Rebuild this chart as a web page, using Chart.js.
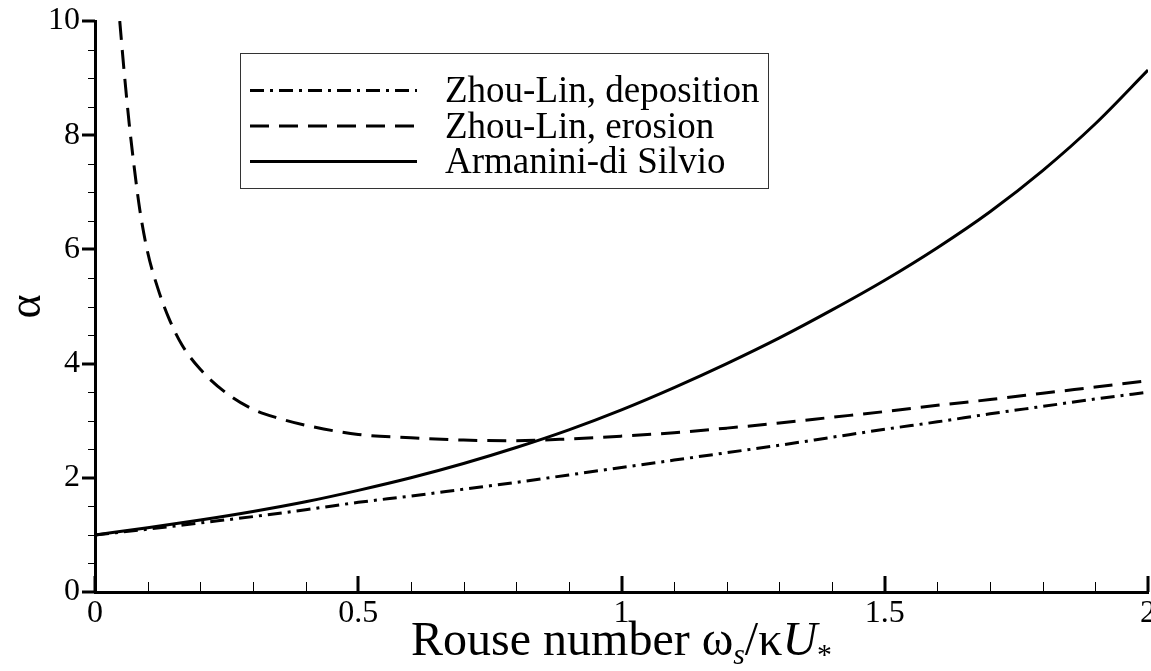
<!DOCTYPE html>
<html>
<head>
<meta charset="utf-8">
<script src="https://cdn.jsdelivr.net/npm/chart.js@4/dist/chart.umd.min.js"></script>
<style>
  html, body { margin: 0; padding: 0; background: #fff; }
  #wrap { position: relative; width: 1151px; height: 671px; }
  #xtitle {
    position: absolute; left: 95px; width: 1053px; top: 615px;
    text-align: center; font-family: 'Liberation Serif', serif;
    font-size: 48px; line-height: 48px; color: #000; white-space: nowrap;
  }
  #xtitle sub { font-size: 0.62em; vertical-align: -0.3em; line-height: 0; }
</style>
</head>
<body>
<div id="wrap">
  <canvas id="chart"></canvas>
  <div id="xtitle">Rouse number ω<sub><i>s</i></sub>/κ<i>U</i><sub>*</sub></div>
</div>
<script>
// Rouse number samples shared by the two smooth curves
const rouse = [0, 0.1, 0.2, 0.3, 0.4, 0.5, 0.6, 0.7, 0.8, 0.9, 1.0,
               1.1, 1.2, 1.3, 1.4, 1.5, 1.6, 1.7, 1.8, 1.9, 2.0];

const depositionAlpha = [1.00, 1.10, 1.21, 1.32, 1.44, 1.57, 1.68, 1.80, 1.92, 2.05, 2.18,
                         2.31, 2.44, 2.57, 2.71, 2.85, 2.98, 3.12, 3.25, 3.38, 3.50];

const armaniniAlpha = [1.00, 1.125, 1.26, 1.41, 1.58, 1.78, 2.00, 2.25, 2.53, 2.84, 3.19,
                       3.58, 4.00, 4.45, 4.94, 5.46, 6.03, 6.66, 7.38, 8.20, 9.14];

// erosion curve starts off the top of the plot, so it has its own x values
const erosionRouse = [0.047, 0.055, 0.065, 0.075, 0.085, 0.1, 0.12, 0.14, 0.165, 0.2, 0.25,
                      0.3, 0.35, 0.4, 0.5, 0.6, 0.7, 0.8, 0.9, 1.0, 1.1, 1.2, 1.3, 1.4,
                      1.5, 1.6, 1.7, 1.8, 1.9, 2.0];
const erosionAlpha = [10.0, 9.15, 8.2, 7.4, 6.7, 5.95, 5.3, 4.8, 4.33, 3.9, 3.48,
                      3.2, 3.04, 2.92, 2.76, 2.70, 2.66, 2.65, 2.68, 2.73, 2.79, 2.87, 2.96, 3.06,
                      3.16, 3.27, 3.37, 3.48, 3.59, 3.70];

const seriesNames = ['Zhou-Lin, deposition', 'Zhou-Lin, erosion', 'Armanini-di Silvio'];

const FONT = 'Liberation Serif';

function pairs(xs, ys) {
    return xs.map((x, i) => ({ x: x, y: ys[i] }));
}

const lineBase = {
    borderColor: '#000',
    borderWidth: 3,
    pointRadius: 0,
    fill: false,
    cubicInterpolationMode: 'monotone',
    borderCapStyle: 'butt'
};

// minor/major ticks: y ticks outside, x ticks pointing into the plot
const tickMarks = {
    id: 'tickMarks',
    afterDraw(chart) {
        const ctx = chart.ctx;
        const xs = chart.scales.x, ys = chart.scales.y;
        const left = chart.chartArea.left, bottom = chart.chartArea.bottom;
        ctx.save();
        ctx.strokeStyle = '#000';
        for (let i = 0; i <= 20; i++) {
            const py = Math.round(ys.getPixelForValue(i * 0.5));
            const major = i % 4 === 0;
            ctx.lineWidth = major ? 3 : 1;
            ctx.beginPath();
            ctx.moveTo(left - (major ? 13 : 7), py + (major ? 0 : 0.5));
            ctx.lineTo(left, py + (major ? 0 : 0.5));
            ctx.stroke();
        }
        for (let i = 0; i <= 20; i++) {
            const px = Math.round(xs.getPixelForValue(i * 0.1));
            const major = i % 5 === 0;
            ctx.lineWidth = major ? 3 : 1;
            ctx.beginPath();
            ctx.moveTo(px + (major ? 0 : 0.5), bottom);
            ctx.lineTo(px + (major ? 0 : 0.5), bottom - (major ? 16 : 10));
            ctx.stroke();
        }
        ctx.restore();
    }
};

// boxed legend inside the plot
const boxLegend = {
    id: 'boxLegend',
    afterDraw(chart) {
        const ctx = chart.ctx;
        ctx.save();
        ctx.fillStyle = '#fff';
        ctx.fillRect(240, 53, 528, 135);
        ctx.strokeStyle = '#333';
        ctx.lineWidth = 1;
        ctx.strokeRect(240.5, 53.5, 528, 135);
        const baselines = [102, 137.5, 173];
        chart.data.datasets.forEach((ds, i) => {
            const ly = baselines[i] - 11.5;
            ctx.strokeStyle = '#000';
            ctx.lineWidth = 3;
            ctx.setLineDash(ds.borderDash || []);
            ctx.beginPath();
            ctx.moveTo(250, ly);
            ctx.lineTo(417, ly);
            ctx.stroke();
            ctx.setLineDash([]);
            ctx.fillStyle = '#000';
            ctx.font = '37px "' + FONT + '"';
            ctx.textBaseline = 'alphabetic';
            ctx.textAlign = 'left';
            ctx.fillText(ds.label, 445, baselines[i]);
        });
        ctx.restore();
    }
};

const plainNumber = v => String(+Number(v).toFixed(2));

new Chart(document.getElementById('chart'), {
    type: 'line',
    data: {
        datasets: [
            Object.assign({}, lineBase, {
                label: seriesNames[0],
                data: pairs(rouse, depositionAlpha),
                borderDash: [14, 6, 3, 6]
            }),
            Object.assign({}, lineBase, {
                label: seriesNames[1],
                data: pairs(erosionRouse, erosionAlpha),
                borderDash: [19, 10]
            }),
            Object.assign({}, lineBase, {
                label: seriesNames[2],
                data: pairs(rouse, armaniniAlpha)
            })
        ]
    },
    options: {
        responsive: true,
        maintainAspectRatio: false,
        animation: false,
        layout: { padding: { top: 21, right: 3, left: 0, bottom: 0 } },
        plugins: {
            legend: { display: false },
            tooltip: { enabled: false }
        },
        scales: {
            x: {
                type: 'linear',
                min: 0,
                max: 2,
                border: { display: true, width: 3, color: '#000' },
                grid: { display: false, drawTicks: false },
                ticks: {
                    stepSize: 0.5,
                    color: '#000',
                    font: { family: FONT, size: 32 },
                    padding: 2,
                    maxRotation: 0,
                    autoSkip: false,
                    callback: plainNumber
                },
                afterFit(scale) {
                    scale.height = 79;
                    scale.paddingLeft = 0;
                    scale.paddingRight = 0;
                }
            },
            y: {
                min: 0,
                max: 10,
                border: { display: true, width: 3, color: '#000' },
                grid: { display: false, drawTicks: false },
                ticks: {
                    stepSize: 2,
                    color: '#000',
                    font: { family: FONT, size: 32 },
                    padding: 15,
                    callback: plainNumber
                },
                title: {
                    display: true,
                    text: 'α',
                    color: '#000',
                    font: { family: FONT, size: 46 },
                    padding: 0
                },
                afterFit(scale) {
                    scale.width = 95;
                    scale.paddingTop = 0;
                    scale.paddingBottom = 0;
                }
            }
        }
    },
    plugins: [tickMarks, boxLegend]
});
</script>
</body>
</html>
